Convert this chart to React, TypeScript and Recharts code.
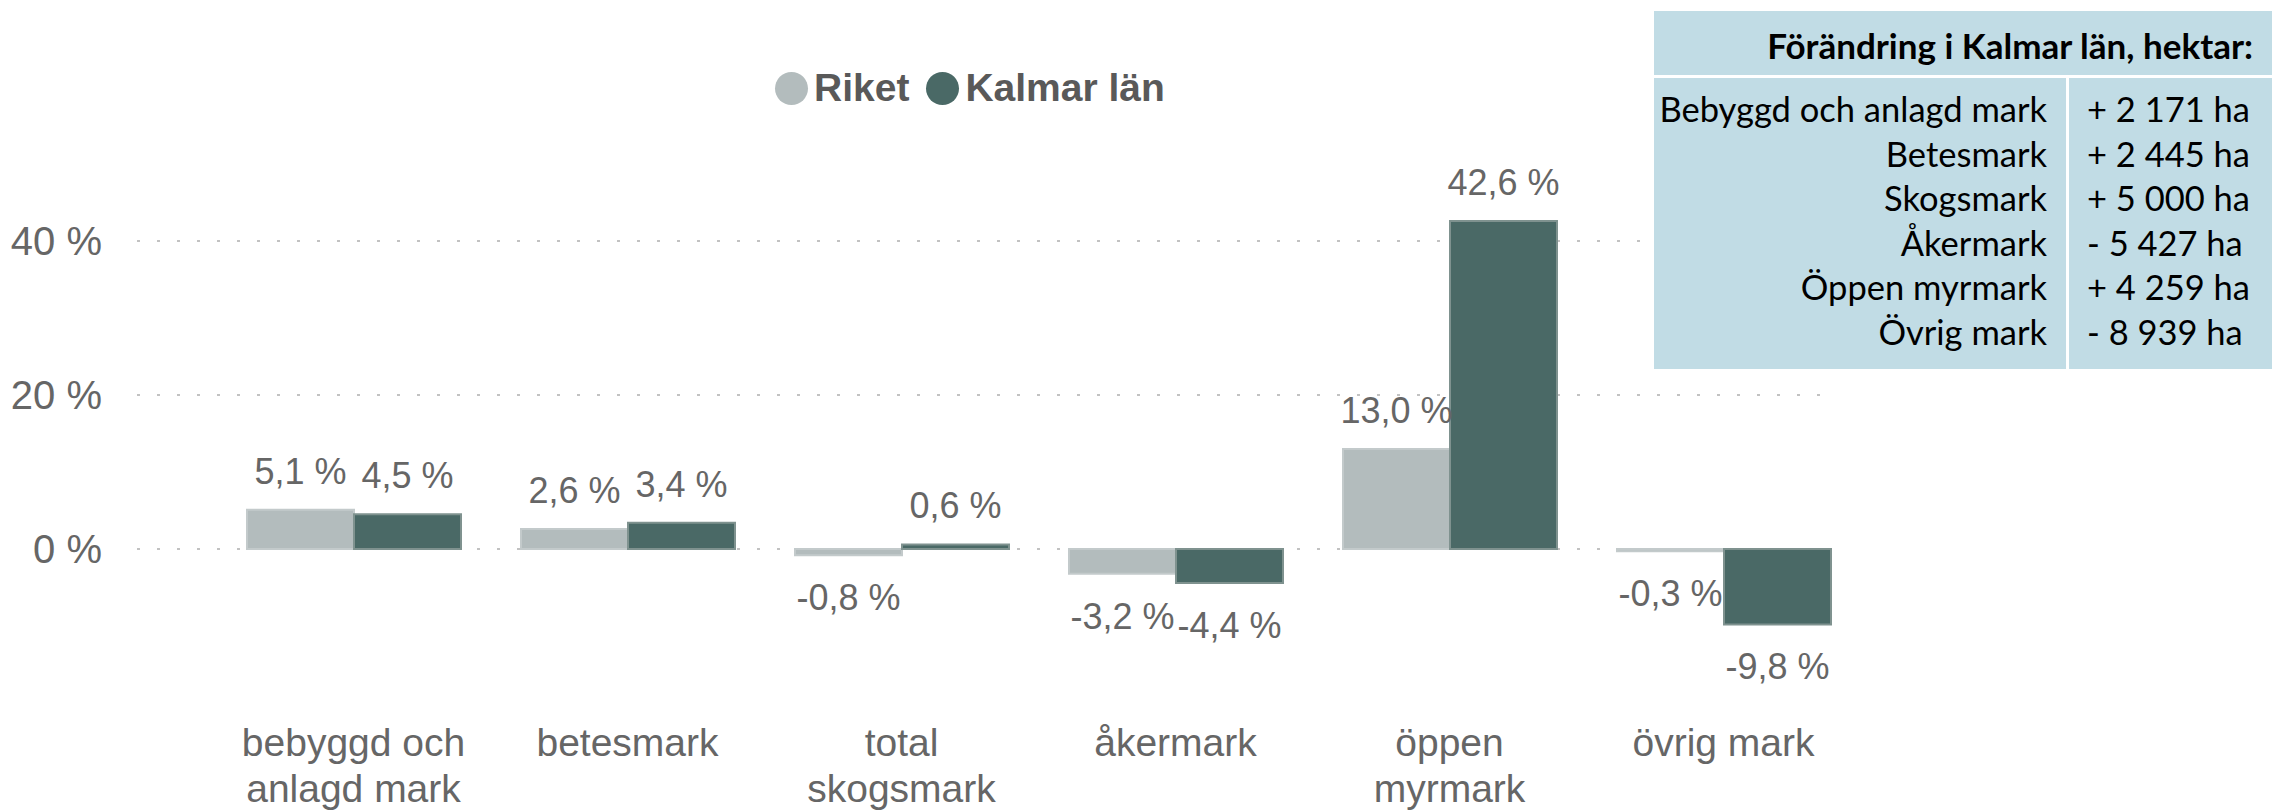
import { BarChart, Bar, XAxis, YAxis, CartesianGrid, LabelList } from "recharts";

const categories = ["bebyggd och anlagd mark", "betesmark", "total skogsmark", "åkermark", "öppen myrmark", "övrig mark"];
const riket = [5.1, 2.6, -0.8, -3.2, 13.0, -0.3];
const kalmar = [4.5, 3.4, 0.6, -4.4, 42.6, -9.8];
const yTicks = [0, 20, 40];
const yDomain = [-10, 50];

const tableTitle = "Förändring i Kalmar län, hektar:";
const tableLabels = ["Bebyggd och anlagd mark", "Betesmark", "Skogsmark", "Åkermark", "Öppen myrmark", "Övrig mark"];
const tableValues = ["+ 2 171 ha", "+ 2 445 ha", "+ 5 000 ha", "- 5 427 ha", "+ 4 259 ha", "- 8 939 ha"];

const RIKET_COLOR = "#b3bcbd";
const KALMAR_COLOR = "#4a6966";
const TEXT = "#666666";
const FONT = "'Liberation Sans', Arial, sans-serif";

const data = categories.map((name, i) => ({ name, riket: riket[i], kalmar: kalmar[i] }));

const fmt = (v: number) => v.toFixed(1).replace(".", ",") + " %";

// split long category names on spaces, ~12 chars per line
function wrap(label: string, max = 12) {
  const words = label.split(" ");
  const lines: string[] = [];
  let cur = "";
  for (const w of words) {
    const next = cur ? cur + " " + w : w;
    if (next.length > max && cur) {
      lines.push(cur);
      cur = w;
    } else {
      cur = next;
    }
  }
  if (cur) lines.push(cur);
  return lines;
}

const CategoryTick = (props: any) => {
  const { x, y, payload } = props;
  const lines = wrap(payload.value);
  return (
    <text x={x} y={y + 128} textAnchor="middle" fill={TEXT} fontSize={39} fontFamily={FONT}>
      {lines.map((l, i) => (
        <tspan key={i} x={x} dy={i === 0 ? 0 : 46}>{l}</tspan>
      ))}
    </text>
  );
};

const renderValue = (props: any) => {
  const { x, y, width, height, value } = props;
  const top = Math.min(y, y + height);
  const bottom = Math.max(y, y + height);
  const cy = value >= 0 ? top - 39 : bottom + 42;
  return (
    <text x={x + width / 2} y={cy} dy="0.36em" textAnchor="middle" fill={TEXT} fontSize={36} fontFamily={FONT}>
      {fmt(value)}
    </text>
  );
};

// grid only at the labelled ticks
const gridRows = ({ yAxis, offset }: any) =>
  yTicks.map((t) =>
    yAxis && typeof yAxis.scale === "function"
      ? yAxis.scale(t)
      : offset.top + ((yDomain[1] - t) / (yDomain[1] - yDomain[0])) * offset.height
  );

export default function App() {
  return (
    <div style={{ position: "absolute", left: 0, top: 0, width: 2272, height: 810, background: "#fff", overflow: "hidden" }}>
      <BarChart
        width={2272}
        height={810}
        data={data}
        margin={{ top: 164, right: 444, left: 0, bottom: 0 }}
        barCategoryGap={30.5}
        barGap={0}
      >
        <CartesianGrid
          vertical={false}
          stroke="#c2c2c2"
          strokeWidth={2}
          strokeDasharray="3 17"
          horizontalCoordinatesGenerator={gridRows}
        />
        <XAxis
          dataKey="name"
          axisLine={false}
          tickLine={false}
          tickSize={0}
          height={184}
          interval={0}
          padding={{ left: 79.5, right: -32.5 }}
          tick={<CategoryTick />}
        />
        <YAxis
          domain={yDomain}
          ticks={yTicks}
          width={137}
          axisLine={false}
          tickLine={false}
          tickSize={0}
          tickMargin={35}
          tickFormatter={(v: number) => `${v} %`}
          tick={{ fill: TEXT, fontSize: 40, fontFamily: FONT }}
        />
        <Bar dataKey="riket" fill={RIKET_COLOR} stroke="#c3cacb" strokeWidth={2} isAnimationActive={false}>
          <LabelList dataKey="riket" content={renderValue} />
        </Bar>
        <Bar dataKey="kalmar" fill={KALMAR_COLOR} stroke="#7f928f" strokeWidth={2} isAnimationActive={false}>
          <LabelList dataKey="kalmar" content={renderValue} />
        </Bar>
      </BarChart>

      {/* legend */}
      <div style={{ position: "absolute", left: 775, top: 66, display: "flex", alignItems: "center", fontFamily: FONT, fontWeight: "bold", fontSize: 39, color: "#595959" }}>
        <span style={{ width: 33, height: 33, borderRadius: "50%", background: RIKET_COLOR, display: "inline-block", marginRight: 6 }} />
        <span style={{ marginRight: 17 }}>Riket</span>
        <span style={{ width: 33, height: 33, borderRadius: "50%", background: KALMAR_COLOR, display: "inline-block", marginRight: 6 }} />
        <span>Kalmar län</span>
      </div>

      {/* side table */}
      <div style={{ position: "absolute", left: 1654, top: 11, width: 618, height: 358, background: "#c1dce5", fontFamily: "Lato, 'Open Sans', sans-serif", color: "#000" }}>
        <div style={{ height: 64, lineHeight: "68px", textAlign: "right", paddingRight: 19, fontWeight: "bold", fontSize: 35 }}>
          {tableTitle}
        </div>
        <div style={{ height: 3, background: "#fff" }} />
        <div style={{ display: "flex", height: 291 }}>
          <div style={{ width: 412, paddingTop: 9, textAlign: "right", paddingRight: 19, boxSizing: "border-box" }}>
            {tableLabels.map((l) => (
              <div key={l} style={{ height: 44.6, lineHeight: "44.6px", fontSize: 34.5 }}>{l}</div>
            ))}
          </div>
          <div style={{ width: 3, background: "#fff" }} />
          <div style={{ flex: 1, paddingTop: 9, paddingLeft: 18 }}>
            {tableValues.map((v, i) => (
              <div key={i} style={{ height: 44.6, lineHeight: "44.6px", fontSize: 34.5 }}>{v}</div>
            ))}
          </div>
        </div>
      </div>
    </div>
  );
}
